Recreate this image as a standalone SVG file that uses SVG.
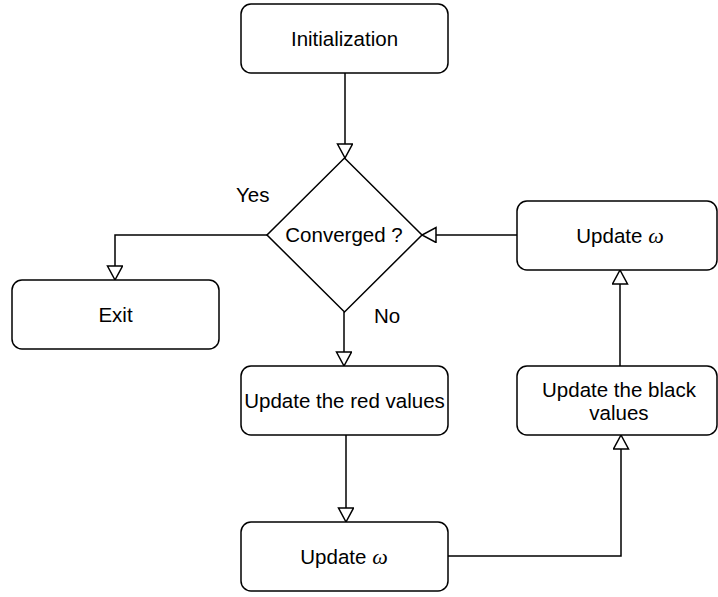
<svg xmlns="http://www.w3.org/2000/svg" width="718" height="597" viewBox="0 0 718 597">
<style>
.box{fill:#fff;stroke:#000;stroke-width:1.5}
.lbl{font-family:"Liberation Sans",Arial,Helvetica,sans-serif;font-size:20.5px;fill:#000;text-anchor:middle}
.free{font-family:"Liberation Sans",Arial,Helvetica,sans-serif;font-size:20.5px;fill:#000}
.om{font-family:"Liberation Serif","Times New Roman",serif;font-style:italic;font-size:22px}
.edge{fill:none;stroke:#000;stroke-width:1.5;marker-end:url(#arr)}
</style>
<defs>
<marker id="arr" markerUnits="userSpaceOnUse" markerWidth="18" markerHeight="18" refX="15" refY="8" orient="auto">
<path d="M1,0.5 L15,8 L1,15.5 Z" fill="#fff" stroke="#000" stroke-width="1.5"/>
</marker>
</defs>
<rect width="718" height="597" fill="#fff"/>
<g id="connectors">
<path class="edge" d="M345,73 V158"/>
<path class="edge" d="M267,235 H115 V280"/>
<path class="edge" d="M344,312 V366"/>
<path class="edge" d="M346,435 V522"/>
<path class="edge" d="M448,556 H621 V435"/>
<path class="edge" d="M620,366 V270"/>
<path class="edge" d="M517,235 H422"/>
</g>
<g id="init">
<rect class="box" x="241" y="4" width="207" height="69" rx="10"/>
<text class="lbl" x="344.5" y="45.5">Initialization</text>
</g>
<g id="converged">
<path class="box" d="M344.5,158 L422,235 L344.5,312 L267,235 Z"/>
<text class="lbl" x="344" y="242">Converged ?</text>
</g>
<g id="exit">
<rect class="box" x="12" y="280" width="207" height="69" rx="10"/>
<text class="lbl" x="115.5" y="322">Exit</text>
</g>
<g id="red">
<rect class="box" x="241" y="366" width="207" height="69" rx="10"/>
<text class="lbl" x="344.5" y="408">Update the red values</text>
</g>
<g id="omega-bottom">
<rect class="box" x="241" y="522" width="207" height="69" rx="10"/>
<text class="lbl" x="344" y="564">Update <tspan class="om">ω</tspan></text>
</g>
<g id="black">
<rect class="box" x="517" y="366" width="200" height="69" rx="10"/>
<text class="lbl" x="619" y="397">Update the black</text>
<text class="lbl" x="619" y="420">values</text>
</g>
<g id="omega-top">
<rect class="box" x="517" y="201" width="200" height="69" rx="10"/>
<text class="lbl" x="620" y="243">Update <tspan class="om">ω</tspan></text>
</g>
<g id="labels">
<text class="free" x="236" y="202">Yes</text>
<text class="free" x="374" y="323">No</text>
</g>
</svg>
